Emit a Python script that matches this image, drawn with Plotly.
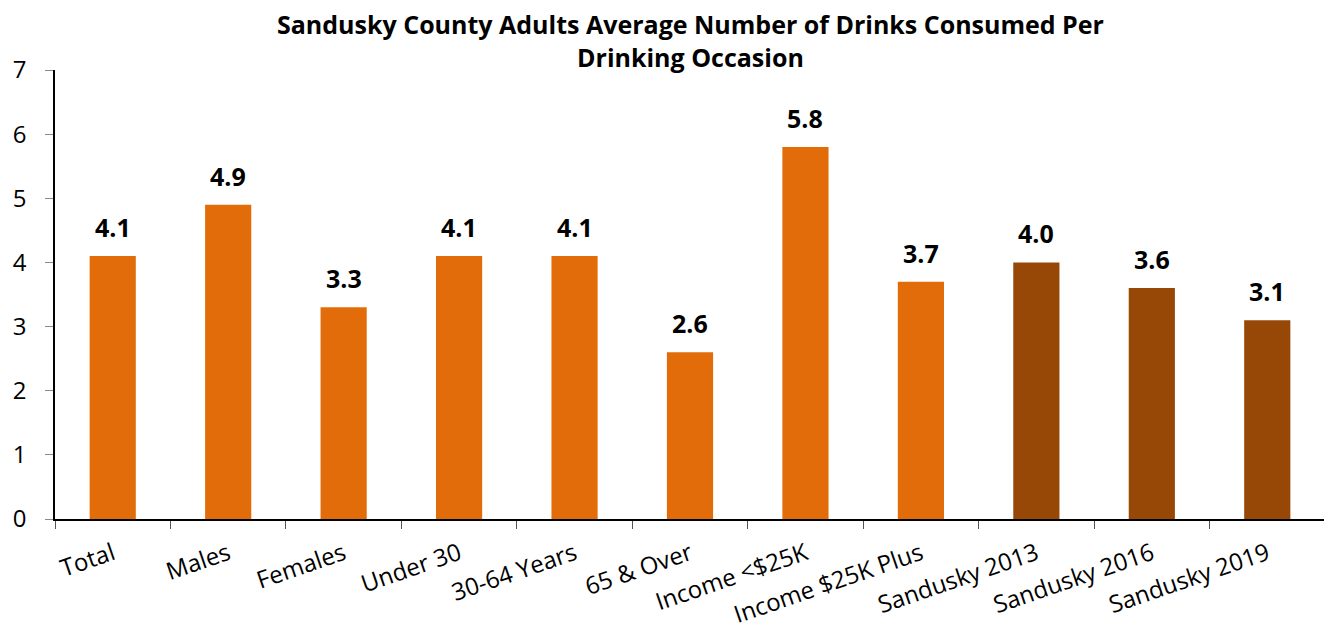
import plotly.graph_objects as go

categories = ["Total", "Males", "Females", "Under 30", "30-64 Years", "65 & Over",
              "Income <$25K", "Income $25K Plus", "Sandusky 2013", "Sandusky 2016", "Sandusky 2019"]
values = [4.1, 4.9, 3.3, 4.1, 4.1, 2.6, 5.8, 3.7, 4.0, 3.6, 3.1]
colors = ["#E36C0A"] * 8 + ["#974806"] * 3
title = "Sandusky County Adults Average Number of Drinks Consumed Per<br>Drinking Occasion"

fig = go.Figure(go.Bar(
    x=categories, y=values, marker_color=colors, marker_line_width=0,
    width=0.4, cliponaxis=False,
))
label_annotations = [
    dict(x=c, y=v, xref="x", yref="y", text=f"{v:.1f}", showarrow=False,
         xanchor="center", yanchor="bottom", yshift=10,
         font=dict(size=25, color="black", family="Open Sans", weight="bold"))
    for c, v in zip(categories, values)
]
fig.update_layout(
    width=1332, height=636,
    margin=dict(l=47, r=15, t=62, b=125),
    plot_bgcolor="white", paper_bgcolor="white",
    font=dict(family="Open Sans", color="black"),
    showlegend=False,
    annotations=[dict(text=title, x=0.5, xref="paper", y=1, yref="paper",
                      xanchor="center", yanchor="top", yshift=64, showarrow=False,
                      borderpad=0,
                      font=dict(size=25, family="Open Sans", weight="bold", color="black"))]
                + label_annotations,
)
fig.update_yaxes(range=[0, 7], dtick=1, showgrid=False, showline=True, linecolor="black",
                 linewidth=1.5, ticks="outside", ticklen=8, tickcolor="#888",
                 ticklabelstandoff=14,
                 tickfont=dict(size=24), zeroline=False, automargin=False)
fig.update_xaxes(showline=True, linecolor="black", linewidth=1.5, ticks="outside",
                 tickson="boundaries", ticklen=8, tickcolor="#555", tickangle=-19,
                 ticklabelstandoff=10,
                 tickfont=dict(size=24), automargin=False)
fig.write_html("out.html")
